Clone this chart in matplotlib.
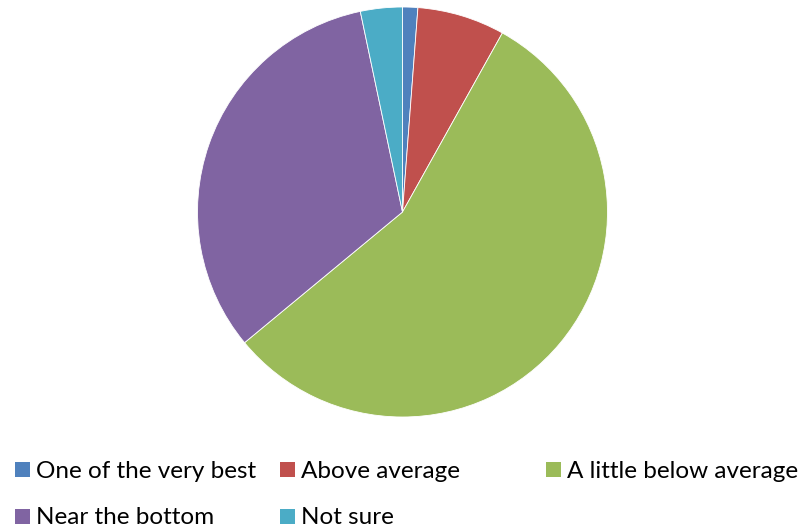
import matplotlib.pyplot as plt
from matplotlib.patches import Rectangle

categories = ["One of the very best", "Above average", "A little below average",
              "Near the bottom", "Not sure"]
values = [1.2, 6.9, 55.9, 32.7, 3.3]
colors = ["#4F81BD", "#C0504D", "#9BBB59", "#8064A2", "#4BACC6"]

W, H = 802, 528
fig = plt.figure(figsize=(W / 100, H / 100), dpi=100)

# pie centred at (402, 212) px, radius 205 px
cx, cy, r = 402.5, 212, 205
ax = fig.add_axes([(cx - r) / W, (H - cy - r) / H, 2 * r / W, 2 * r / H])
ax.pie(values, colors=colors, startangle=90, counterclock=False, radius=1,
       wedgeprops=dict(edgecolor="white", linewidth=0.6))
ax.set_xlim(-1, 1)
ax.set_ylim(-1, 1)
ax.set_aspect("equal")
ax.axis("off")

# legend, laid out by hand like the original (fixed column width)
col_x = [15, 280, 546]
row_y = [469.5, 516]
for i, (lab, col) in enumerate(zip(categories, colors)):
    row, c = divmod(i, 3)
    x, y = col_x[c], row_y[row]
    fig.patches.append(Rectangle((x / W, (H - y - 7.5) / H), 15 / W, 15 / H,
                                 transform=fig.transFigure, facecolor=col,
                                 edgecolor="none"))
    fig.text((x + 21) / W, (H - y - 8.5) / H, lab, fontsize=17.5, va="baseline",
             ha="left", color="#000000", family=["Lato", "DejaVu Sans"])

fig.savefig("out.png", dpi=100)
